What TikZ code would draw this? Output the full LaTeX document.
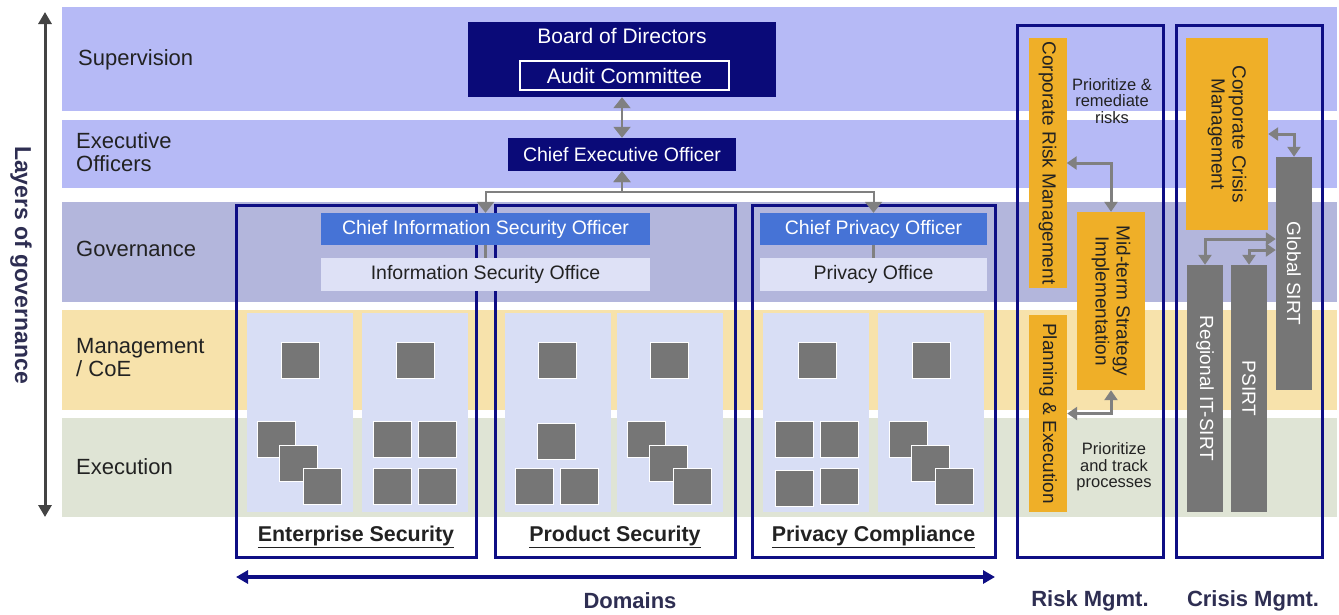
\documentclass[tikz,border=0pt]{standalone}
\usepackage{fontspec}
\setmainfont{Liberation Sans}
\usetikzlibrary{arrows.meta}
\definecolor{bandtop}{HTML}{B6BAF6}
\definecolor{bandgov}{HTML}{B3B6DC}
\definecolor{bandmgmt}{HTML}{F7E2AB}
\definecolor{bandexec}{HTML}{DFE4D5}
\definecolor{panelblue}{HTML}{D8DEF5}
\definecolor{navy}{HTML}{0A0A78}
\definecolor{frameblue}{HTML}{0E0E84}
\definecolor{cisoblue}{HTML}{4673D6}
\definecolor{officefill}{HTML}{DEE1F6}
\definecolor{ambr}{HTML}{EFAF28}
\definecolor{sqgray}{HTML}{767676}
\definecolor{arrgray}{HTML}{808080}
\definecolor{labeltxt}{HTML}{222222}
\definecolor{axisgray}{HTML}{434343}
\definecolor{titletxt}{HTML}{2E2E52}
\tikzset{
  bandlbl/.style={anchor=west, inner sep=0pt, align=left, text=labeltxt,
    font=\fontsize{22}{23}\selectfont},
  navybox/.style={fill=navy, text=white, inner sep=0pt,
    font=\fontsize{19.5}{21}\selectfont},
  bluebox/.style={fill=cisoblue, text=white, inner sep=0pt, minimum height=32pt,
    font=\fontsize{19.5}{21}\selectfont},
  officebox/.style={fill=officefill, text=labeltxt, inner sep=0pt, minimum height=33pt,
    font=\fontsize{19.5}{21}\selectfont},
  frame/.style={draw=frameblue, line width=3pt, inner sep=0pt},
  domlbl/.style={text=labeltxt, font=\bfseries\fontsize{21.4}{23}\selectfont},
  ttl/.style={text=titletxt, font=\bfseries\fontsize{22}{24}\selectfont},
  ambrbox/.style={fill=ambr, text=labeltxt, inner sep=0pt, rotate=-90, align=center,
    font=\fontsize{19}{21}\selectfont},
  sirtbox/.style={fill=sqgray, text=white, inner sep=0pt, rotate=-90,
    minimum height=36pt, font=\fontsize{19}{21}\selectfont},
  note/.style={text=labeltxt, align=center, inner sep=0pt,
    font=\fontsize{16.5}{16.5}\selectfont},
  sqbox/.style={fill=sqgray, draw=white, line width=1pt},
  orgarrow/.style={draw=arrgray, line width=2pt,
    {Triangle[width=17pt,length=11pt]}-{Triangle[width=17pt,length=11pt]}},
  garrow/.style={draw=arrgray, line width=3pt,
    {Triangle[width=13pt,length=10pt]}-{Triangle[width=13pt,length=10pt]}},
}
\begin{document}
\begin{tikzpicture}[x=1pt, y=-1pt]
\useasboundingbox (0,0) rectangle (1339,614);
\fill[white] (0,0) rectangle (1339,614);
\fill[bandtop] (62,7) rectangle (1337,111);
\fill[bandtop] (62,120) rectangle (1337,188);
\fill[bandgov] (62,202) rectangle (1337,302);
\fill[bandmgmt] (62,310) rectangle (1337,410);
\fill[bandexec] (62,418) rectangle (1337,517);

\node[bandlbl] (sup) at (78,60) {Supervision};
\node[bandlbl] (exo) at (76,152) {Executive\\Officers};
\node[bandlbl] (gov) at (76,249) {Governance};
\node[bandlbl] (mgt) at (76,358) {Management\\/ CoE};
\node[bandlbl] (exe) at (76,467) {Execution};

\draw[axisgray, line width=3pt, {Triangle[width=13pt,length=12pt]}-{Triangle[width=13pt,length=12pt]}] (45,12) -- (45,517);
\node[rotate=-90, text=titletxt, font=\bfseries\fontsize{23}{24}\selectfont] (layers) at (21,265) {Layers of governance};

\foreach \px in {247,362,505,617,763,878}
  \fill[panelblue] (\px,313) rectangle ++(106,199);
\foreach \sx/\sy in {281/342, 396/342, 538/342, 650/342, 798/342, 912/342,
    257/421, 279/445, 303/468,
    373/421, 418/421, 373/468, 418/468,
    537/423, 515/468, 560/468,
    627/421, 649/445, 673/468,
    775/421, 820/421, 775/470, 820/468,
    889/421, 911/445, 935/468}
  \filldraw[sqbox] (\sx,\sy) rectangle ++(38,36);

\node[frame, minimum width=240pt, minimum height=352pt] (ent) at (356,381) {};
\node[frame, minimum width=240pt, minimum height=352pt] (prod) at (615,381) {};
\node[frame, minimum width=243pt, minimum height=352pt] (priv) at (873.5,381) {};
\node[domlbl] at (356,537) {\underline{Enterprise Security}};
\node[domlbl] at (615,537) {\underline{Product Security}};
\node[domlbl] at (873.5,537) {\underline{Privacy Compliance}};

\node[navybox, minimum width=308pt, minimum height=75pt] (board) at (622,59.5) {};
\node[navybox, font=\fontsize{21}{22}\selectfont] (bodtxt) at (622,36) {Board of Directors};
\node[navybox, draw=white, line width=2pt, minimum width=209pt, minimum height=29pt,
  font=\fontsize{21}{22}\selectfont] (audit) at (624.5,75.5) {Audit Committee};
\node[navybox, minimum width=228pt, minimum height=33pt] (ceo) at (622,154.5) {Chief Executive Officer};

\node[bluebox, minimum width=329pt] (ciso) at (485.5,229) {Chief Information Security Officer};
\node[officebox, minimum width=329pt] (isoff) at (485.5,274.5) {Information Security Office};
\node[bluebox, minimum width=227pt] (cpo) at (873.5,229) {Chief Privacy Officer};
\node[officebox, minimum width=227pt] (poff) at (873.5,274.5) {Privacy Office};

\draw[orgarrow] (board.south) -- (ceo.north);
\draw[orgarrow] (ceo.south) -- ++(0,21) -| (ciso.north);
\draw[orgarrow] (ceo.south) -- ++(0,21) -| (cpo.north);
\draw[arrgray, line width=3pt] (ciso.south) -- (isoff.north);
\draw[arrgray, line width=3pt] (cpo.south) -- (poff.north);

\draw[frameblue, line width=3.5pt, {Triangle[width=13pt,length=12pt]}-{Triangle[width=13pt,length=12pt]}] (236,577) -- (995,577);
\node[ttl] (domains) at (630,601) {Domains};

\node[frame, minimum width=146pt, minimum height=532pt] (risk) at (1090,291) {};
\node[frame, minimum width=146pt, minimum height=532pt] (crisis) at (1249,291) {};
\node[ttl] at (1090,601) {Risk Mgmt.};
\node[ttl] at (1253,601) {Crisis Mgmt.};

\node[ambrbox, minimum width=250pt, minimum height=38pt] (crm) at (1047.5,163) {Corporate Risk Management};
\node[ambrbox, minimum width=178pt, minimum height=68pt] (mts) at (1111,301) {Mid-term Strategy\\Implementation};
\node[ambrbox, minimum width=197pt, minimum height=38pt] (plan) at (1048,413.5) {Planning \& Execution};
\node[note] at (1112,101) {Prioritize \&\\remediate\\risks};
\node[note] at (1114,467) {Prioritize\\and track\\processes};
\draw[garrow] (crm.north) -| (mts.west);
\draw[garrow] (plan.north) -| (mts.east);

\node[ambrbox, minimum width=192pt, minimum height=82pt] (ccm) at (1227,134) {Corporate Crisis\\Management};
\node[sirtbox, minimum width=233pt] (gsirt) at (1294,273.5) {Global SIRT};
\node[sirtbox, minimum width=247pt] (rsirt) at (1205,388.5) {Regional IT-SIRT};
\node[sirtbox, minimum width=247pt] (psirt) at (1249,388.5) {PSIRT};
\draw[garrow] (ccm.north) -| (gsirt.west);
\draw[garrow] (gsirt.south |- 0,239) -| (rsirt.west);
\draw[garrow] (gsirt.south |- 0,250) -| (psirt.west);
\end{tikzpicture}
\end{document}
